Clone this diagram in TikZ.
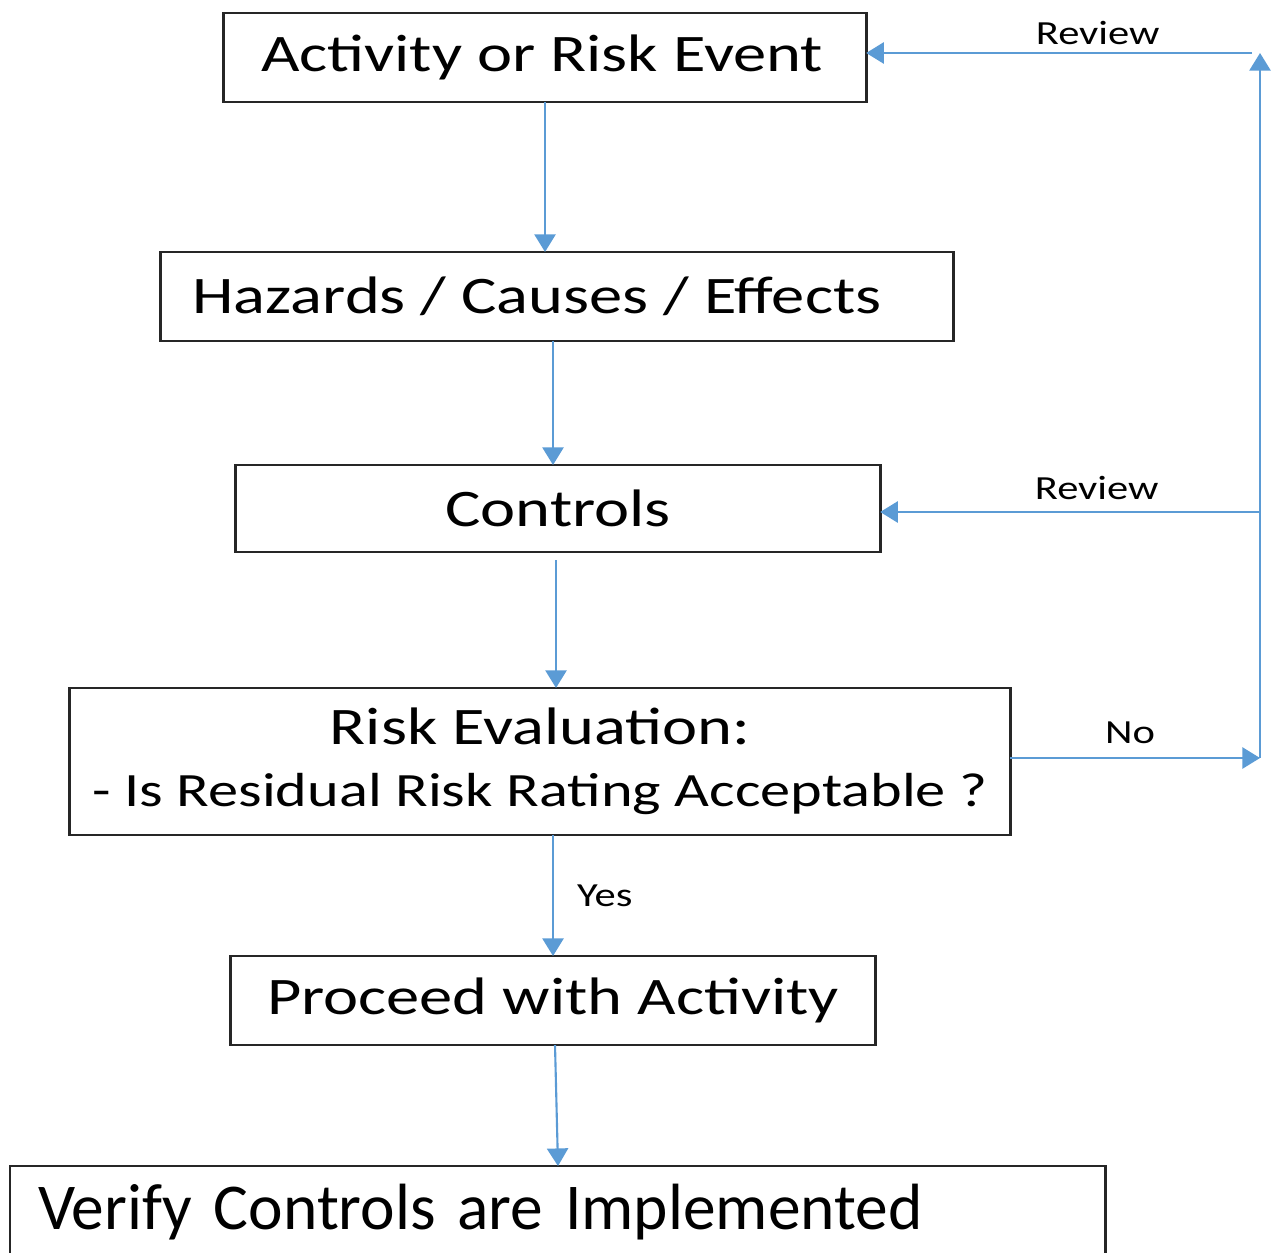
\documentclass[tikz,border=0pt]{standalone}
\usepackage{fontspec}
\setmainfont{Carlito}
\newfontfamily\widefont[FakeStretch=1.26]{Carlito}
\usetikzlibrary{arrows.meta}
\definecolor{flowblue}{HTML}{5B9BD5}

\begin{document}
\begin{tikzpicture}[
		x=0.01cm, y=-0.01cm,
		every node/.style={inner sep=0pt, outer sep=0pt},
		stepbox/.style={rectangle, draw=black!85, line width=0.8pt, font=\widefont\fontsize{15}{18}\selectfont},
		flow/.style={draw=flowblue, line width=0.6pt, -{Triangle[width=6pt, length=5pt]}},
		flowlabel/.style={font=\widefont\fontsize{9.6}{11}\selectfont}
	]
  \clip (0,0) rectangle (1274,1252);
  \node (act) [stepbox, minimum width=6.42cm, minimum height=0.89cm] at (545,57.5) {\hspace{-0.06cm}Activity or Risk Event\hspace{0.3cm}};
  \node (haz) [stepbox, minimum width=7.92cm, minimum height=0.89cm] at (557,296.5) {\hspace{-0.4cm}Hazards / Causes / Effects};
  \node (ctrl) [stepbox, minimum width=6.44cm, minimum height=0.87cm] at (558,508.5) {Controls};
  \node (eval) [stepbox, minimum width=9.40cm, minimum height=1.47cm, align=center] at (540,761.5)
    {\rule{0pt}{0.3cm}Risk Evaluation:\\[-0.5pt]{\fontsize{13.6}{16}\selectfont- Is Residual Risk Rating Acceptable ?}};
  \node (proc) [stepbox, minimum width=6.44cm, minimum height=0.89cm] at (553,1000.5) {Proceed with Activity};
  \node (verify) [stepbox, anchor=north west, minimum width=10.95cm, minimum height=0.92cm,
    text width=10.39cm, inner xsep=0.28cm, align=left, font=\fontsize{18.6}{22}\selectfont] at (10,1166)
    {Verify Controls are Implemented};
  \coordinate (nocorner) at (1260,758);
  \coordinate (topcorner) at (1260,53);
  \coordinate (midjoin) at (1260,512);
  \draw[flow] (act.south -| 545,0) -- (haz.north -| 545,0);
  \draw[flow] (haz.south -| 553,0) -- (ctrl.north -| 553,0);
  \draw[flow] (ctrl.south -| 556,0) ++(0,8) -- (eval.north -| 556,0);
  \draw[flow] (eval.south -| 553,0) -- (proc.north -| 553,0) node [flowlabel, midway, right=0.24cm] {Yes};
  \draw[flow] (proc.south -| 555,0) -- (verify.north -| 558,0);
  \draw[flow] (eval.east |- nocorner) -- (nocorner) node [flowlabel, pos=0.48, above=0.14cm] {No};
  \draw[flow] (nocorner) -- (topcorner);
  \draw[flow] (topcorner) ++(-8,0) -- (act.east |- topcorner) node [flowlabel, pos=0.4, above=0.08cm] {Review};
  \draw[flow] (midjoin) -- (ctrl.east |- midjoin) node [flowlabel, pos=0.43, above=0.12cm] {Review};
\end{tikzpicture}
\end{document}
